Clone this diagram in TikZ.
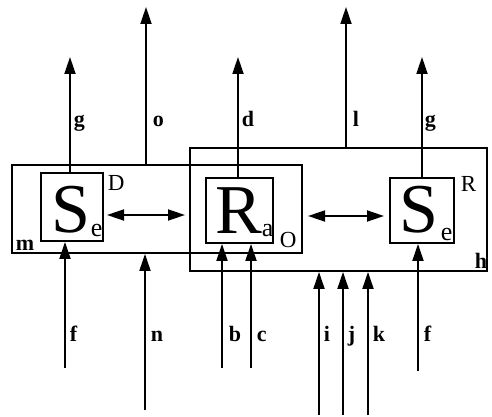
\documentclass[tikz,border=0pt]{standalone}
\usepackage{fontspec}
\setmainfont{Liberation Serif}
\usetikzlibrary{arrows.meta}
\begin{document}
\begin{tikzpicture}[x=1pt,y=-1pt,
  line width=1.8pt,
  boxst/.style={draw,rectangle,inner sep=0pt,fill=none},
  arr/.style={-{Triangle[length=17pt,width=11pt]}},
  darr/.style={{Triangle[length=17pt,width=11pt]}-{Triangle[length=17pt,width=11pt]}},
  lbl/.style={anchor=base west,inner sep=0pt,font=\fontsize{22}{22}\selectfont\bfseries},
  big/.style={anchor=base west,inner sep=0pt,font=\fontsize{70}{70}\selectfont},
  sub/.style={anchor=base west,inner sep=0pt,font=\fontsize{26}{26}\selectfont},
  sup/.style={anchor=base west,inner sep=0pt,font=\fontsize{23}{23}\selectfont}]
\useasboundingbox (0,0) rectangle (492,417);
% boxes
\node[boxst,minimum width=290pt,minimum height=88pt] (mbox) at (157,209) {};
\node[boxst,minimum width=297pt,minimum height=123pt] (hbox) at (338.5,209.5) {};
\node[boxst,minimum width=62pt,minimum height=68pt] (SL) at (72,207) {};
\node[boxst,minimum width=67pt,minimum height=65pt] (RA) at (239.5,210.5) {};
\node[boxst,minimum width=64pt,minimum height=65pt] (SR) at (422,210.5) {};
% box texts
\node[big] (tSL) at (51,232) {S};
\node[sub] (eSL) at (90,236) {e};
\node[sup] (tD) at (107,190) {D};
\node[big] (tRA) at (215,233) {R};
\node[sub] (aRA) at (261,236) {a};
\node[sup] (tO) at (279,247) {O};
\node[big] (tSR) at (399,232) {S};
\node[sub] (eSR) at (440,240) {e};
\node[sup] (tR) at (460,191) {R};
\node[lbl] (tm) at (15,250) {m};
\node[lbl] (th) at (474,268) {h};
% free ends
\coordinate (gL) at (70,57);
\coordinate (o) at (146,7);
\coordinate (d) at (238,57);
\coordinate (l) at (346,7);
\coordinate (gR) at (422,57);
\coordinate (fL) at (65,368);
\coordinate (n) at (145,410);
\coordinate (b) at (222,368);
\coordinate (c) at (251,368);
\coordinate (i) at (319,415);
\coordinate (j) at (343,415);
\coordinate (k) at (368,415);
\coordinate (fR) at (418,371);
\coordinate (da1) at (107,215);
\coordinate (da2) at (185,215);
\coordinate (db1) at (308,216);
\coordinate (db2) at (384,216);
% outputs
\draw[arr] (SL.north -| gL) -- (gL);
\draw[arr] (mbox.north -| o) -- (o);
\draw[arr] (RA.north -| d) -- (d);
\draw[arr] (hbox.north -| l) -- (l);
\draw[arr] (SR.north -| gR) -- (gR);
% inputs
\draw[arr] (fL) -- (SL.south -| fL);
\draw[arr] (n) -- (mbox.south -| n);
\draw[arr] (b) -- (RA.south -| b);
\draw[arr] (c) -- (RA.south -| c);
\draw[arr] (i) -- (hbox.south -| i);
\draw[arr] (j) -- (hbox.south -| j);
\draw[arr] (k) -- (hbox.south -| k);
\draw[arr] (fR) -- (SR.south -| fR);
% double arrows
\draw[darr] (da1) -- (da2);
\draw[darr] (db1) -- (db2);
% labels
\node[lbl] (lg1) at (73,126) {g};
\node[lbl] (lo) at (152,126) {o};
\node[lbl] (ld) at (241,126) {d};
\node[lbl] (ll) at (352,126) {l};
\node[lbl] (lg2) at (424,126) {g};
\node[lbl] (lf1) at (69,341) {f};
\node[lbl] (ln) at (150,341) {n};
\node[lbl] (lb) at (228,341) {b};
\node[lbl] (lc) at (256,341) {c};
\node[lbl] (li) at (323,341) {i};
\node[lbl] (lj) at (347,341) {j};
\node[lbl] (lk) at (372,341) {k};
\node[lbl] (lf2) at (423,341) {f};
\end{tikzpicture}
\end{document}
